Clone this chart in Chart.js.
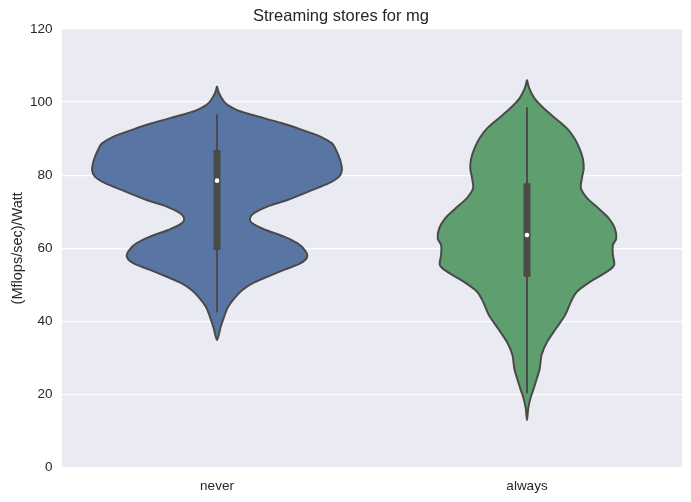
<!DOCTYPE html>
<html>
<head>
<meta charset="utf-8">
<script src="https://cdn.jsdelivr.net/npm/chart.js@4.4.1/dist/chart.umd.min.js"></script>
<style>
  html, body { margin: 0; padding: 0; background: #ffffff; }
  #wrap { width: 691px; height: 502px; }
</style>
</head>
<body>
<div id="wrap"><canvas id="violinChart"></canvas></div>
<script>
// categories and tick labels
const categories = ['never', 'always'];
const yTicks = [0, 20, 40, 60, 80, 100, 120];

// density outline: value level -> half width (in category units)
const neverLevels = [104.4, 103.0, 101.5, 100.0, 98.8, 97.8, 96.8, 96.0, 94.2, 92.4, 90.5, 88.7, 86.9, 84.2, 81.4, 79.6, 77.8, 75.9, 73.2, 71.4, 69.6, 68.2, 66.8, 65.0, 63.2, 61.4, 59.5, 57.7, 55.9, 54.1, 52.2, 50.4, 48.6, 46.7, 44.0, 41.3, 38.5, 34.9];
const neverHalfWidths = [0, .004, .012, .024, .042, .065, .100, .135, .210, .274, .335, .371, .384, .397, .403, .394, .361, .306, .227, .162, .119, .106, .114, .157, .216, .259, .283, .291, .270, .216, .162, .114, .082, .060, .036, .023, .012, 0];

const alwaysLevels = [106.1, 103.8, 101.0, 98.3, 95.6, 92.8, 90.1, 87.4, 84.6, 81.9, 79.1, 76.4, 73.7, 70.9, 68.2, 65.5, 62.7, 60.9, 58.2, 55.4, 53.6, 50.8, 48.1, 45.4, 41.7, 38.1, 34.4, 30.8, 27.1, 24.4, 21.7, 18.9, 16.2, 13.0];
const alwaysHalfWidths = [0, .007, .024, .054, .091, .129, .153, .169, .180, .183, .177, .174, .194, .231, .264, .283, .288, .277, .277, .281, .258, .203, .161, .142, .123, .094, .065, .047, .041, .032, .022, .011, .004, 0];

// inner box stats
const whiskerLow = [42.4, 20.3];
const quartile1 = [59.5, 52.2];
const medians = [78.5, 63.6];
const quartile3 = [86.9, 77.8];
const whiskerHigh = [96.7, 98.6];

const fills = ['#5875a4', '#5f9e6e'];
const edge = '#4a4a4a';
const textColor = '#262626';
const fontFamily = '"Liberation Sans", Arial, sans-serif';

// left side top->bottom, then right side back up to the top tip
function outline(pos, levels, widths) {
  const pts = levels.map((v, i) => ({ x: pos - widths[i], y: v }));
  for (let i = levels.length - 2; i >= 0; i--) {
    pts.push({ x: pos + widths[i], y: levels[i] });
  }
  return pts;
}

const shapes = [
  outline(0, neverLevels, neverHalfWidths),
  outline(1, alwaysLevels, alwaysHalfWidths)
];

const datasets = [];
shapes.forEach((pts, i) => {
  datasets.push({
    type: 'line',
    data: pts,
    backgroundColor: fills[i],
    borderColor: edge,
    borderWidth: 2,
    borderJoinStyle: 'round',
    fill: 'shape',
    tension: 0.3,
    pointRadius: 0,
    order: 3
  });
});
categories.forEach((c, i) => {
  datasets.push({
    type: 'line',
    data: [{ x: i, y: whiskerLow[i] }, { x: i, y: whiskerHigh[i] }],
    borderColor: edge,
    borderWidth: 2,
    pointRadius: 0,
    fill: false,
    order: 2
  });
  datasets.push({
    type: 'line',
    data: [{ x: i, y: quartile1[i] }, { x: i, y: quartile3[i] }],
    borderColor: edge,
    borderWidth: 7,
    borderCapStyle: 'butt',
    pointRadius: 0,
    fill: false,
    order: 1
  });
});
datasets.push({
  type: 'scatter',
  data: medians.map((m, i) => ({ x: i, y: m })),
  backgroundColor: '#ffffff',
  borderWidth: 0,
  pointRadius: 2.3,
  order: 0
});

const plotBackground = {
  id: 'plotBackground',
  beforeDraw: (chart) => {
    const { ctx, chartArea: { top, left, width, height } } = chart;
    ctx.save();
    ctx.fillStyle = '#eaeaf2';
    ctx.fillRect(left, top, width, height);
    ctx.restore();
  }
};

new Chart(document.getElementById('violinChart'), {
  type: 'scatter',
  data: { datasets: datasets },
  options: {
    responsive: true,
    maintainAspectRatio: false,
    animation: false,
    layout: { padding: { left: 0, right: 9, top: 0, bottom: 0 } },
    plugins: {
      legend: { display: false },
      tooltip: { enabled: false },
      title: {
        display: true,
        text: 'Streaming stores for mg',
        color: textColor,
        font: { size: 16.5, family: fontFamily, weight: 'normal' },
        padding: { top: 7, bottom: 2.2 }
      }
    },
    scales: {
      x: {
        type: 'linear',
        min: -0.5,
        max: 1.5,
        afterBuildTicks: (scale) => {
          scale.ticks = categories.map((c, i) => ({ value: i }));
        },
        afterFit: (scale) => { scale.height = 34.5; },
        grid: { display: false, drawTicks: false },
        border: { display: false },
        ticks: {
          padding: 10.5,
          color: textColor,
          font: { size: 13.5, family: fontFamily },
          callback: (v) => categories[v]
        }
      },
      y: {
        type: 'linear',
        min: 0,
        max: 120,
        afterBuildTicks: (scale) => {
          scale.ticks = yTicks.map(v => ({ value: v }));
        },
        afterFit: (scale) => { scale.width = 62; },
        grid: { color: '#ffffff', lineWidth: 1.3, drawTicks: false },
        border: { display: false },
        title: {
          display: true,
          text: '(Mflops/sec)/Watt',
          color: textColor,
          font: { size: 14.5, family: fontFamily },
          padding: { top: 9, bottom: 0 }
        },
        ticks: {
          padding: 9.5,
          color: textColor,
          font: { size: 13.5, family: fontFamily }
        }
      }
    }
  },
  plugins: [plotBackground]
});
</script>
</body>
</html>
